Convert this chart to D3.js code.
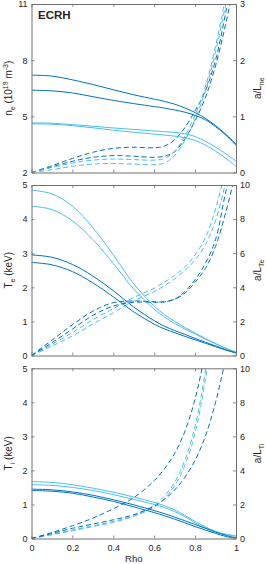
<!DOCTYPE html>
<html><head><meta charset="utf-8">
<script src="https://cdn.jsdelivr.net/npm/d3@7"></script>
<style>body{margin:0;background:#fff}svg{display:block}text{font-family:"Liberation Sans",Arial,Helvetica,sans-serif;fill:#262626}</style>
</head><body><svg id="c" width="266" height="564"></svg>
<script>
// ---- data ----
const rho = [0,0.1,0.2,0.3,0.4,0.5,0.6,0.65,0.7,0.75,0.8,0.85,0.9,0.95,1.0];
const xTicks = [0,0.2,0.4,0.6,0.8,1];
const xTickLabels = ["0","0.2","0.4","0.6","0.8","1"];

// panel 1: electron density (left) and a/L_ne (right)
const neDark1  = [7.2,7.15,6.95,6.7,6.42,6.15,5.92,5.8,5.65,5.45,5.2,4.9,4.5,4.05,3.52];
const neDark2  = [6.4,6.36,6.25,6.05,5.85,5.68,5.52,5.44,5.34,5.22,5.05,4.82,4.45,4.0,3.45];
const neLight1 = [4.65,4.63,4.56,4.47,4.38,4.3,4.22,4.18,4.14,4.07,3.92,3.67,3.36,3.0,2.6];
const neLight2 = [4.6,4.58,4.5,4.39,4.26,4.15,4.05,4.0,3.94,3.86,3.71,3.47,3.14,2.76,2.33];
const aLneDark1  = [0,0.12,0.25,0.36,0.43,0.45,0.44,0.47,0.58,0.8,1.1,1.45,2.0,2.85,3.8];
const aLneDark2  = [0,0.1,0.2,0.27,0.3,0.29,0.27,0.29,0.37,0.6,0.92,1.33,1.9,2.65,3.5];
const aLneLight1 = [0,0.09,0.17,0.22,0.24,0.23,0.22,0.25,0.38,0.65,1.02,1.52,2.25,3.15,4.2];
const aLneLight2 = [0,0.05,0.11,0.15,0.16,0.15,0.14,0.17,0.3,0.57,0.95,1.45,2.15,3.0,4.0];
const neTicks = [2,5,8,11];
const aLneTicks = [0,1,2,3];

// panel 2: electron temperature and a/L_Te
const teLight1 = [4.85,4.74,4.38,3.75,2.95,2.1,1.45,1.2,1.0,0.82,0.66,0.5,0.35,0.21,0.1];
const teLight2 = [4.38,4.28,3.95,3.4,2.7,1.95,1.36,1.13,0.94,0.78,0.63,0.48,0.34,0.21,0.1];
const teDark1  = [2.95,2.88,2.67,2.33,1.9,1.42,1.02,0.86,0.73,0.62,0.5,0.39,0.28,0.17,0.08];
const teDark2  = [2.73,2.66,2.46,2.13,1.72,1.28,0.92,0.78,0.67,0.56,0.46,0.36,0.26,0.16,0.07];
const aLTeDark1  = [0,0.9,1.8,2.6,3.1,3.2,3.15,3.15,3.3,3.75,4.45,5.4,6.8,9.6,12];
const aLTeDark2  = [0,0.75,1.55,2.35,2.9,3.12,3.12,3.15,3.3,3.65,4.3,5.1,6.4,8.4,10.8];
const aLTeLight1 = [0,0.65,1.35,2.1,2.75,3.4,3.95,4.3,4.7,5.2,5.9,6.9,8.6,11,14];
const aLTeLight2 = [0,0.55,1.15,1.85,2.5,3.2,3.75,4.1,4.5,5.0,5.6,6.5,7.9,10.2,13];
const teTicks = [0,1,2,3,4,5];
const aLTeTicks = [0,2,4,6,8,10];

// panel 3: ion temperature and a/L_Ti
const tiLight1 = [1.67,1.65,1.58,1.48,1.36,1.22,1.06,0.96,0.84,0.68,0.5,0.34,0.21,0.13,0.08];
const tiLight2 = [1.58,1.56,1.5,1.41,1.29,1.15,1.0,0.91,0.79,0.64,0.46,0.31,0.19,0.11,0.06];
const tiDark1  = [1.45,1.43,1.37,1.27,1.14,0.99,0.82,0.73,0.63,0.52,0.41,0.3,0.19,0.09,0.02];
const tiDark2  = [1.41,1.39,1.33,1.22,1.09,0.93,0.76,0.67,0.57,0.46,0.35,0.25,0.15,0.06,0.0];
const aLTiDark1  = [0,0.35,0.75,1.2,1.75,2.4,3.4,4.1,5.0,6.3,8.2,11,14.5,18,22];
const aLTiLight1 = [0,0.25,0.5,0.75,1.0,1.35,1.95,2.5,3.3,4.6,6.6,9.8,14,18,22];
const aLTiLight2 = [0,0.22,0.45,0.7,0.95,1.3,1.85,2.35,3.1,4.3,6.2,9.3,13.5,17.5,21.5];
const aLTiDark2  = [0,0.3,0.6,0.85,1.1,1.4,1.9,2.3,2.85,3.6,4.6,6.0,8.0,10.6,13.5];
const tiTicks = [0,1,2,3,4,5];
const aLTiTicks = [0,2,4,6,8,10];

const DARK = "#0072BD", LIGHT = "#4DBEEE";

// ---- layout ----
const svg = d3.select("#c");
const X0 = 31.5, X1 = 236;
const boxes = [[4, 172.5], [185, 355.5], [368.3, 538.5]];
const x = d3.scaleLinear().domain([0,1]).range([X0, X1]);
const AX = "#707070";

const panels = [
  {box: boxes[0], left: [2,11], right: [0,3], lt: neTicks, rt: aLneTicks,
   solid: [[neDark1,DARK],[neDark2,DARK],[neLight1,LIGHT],[neLight2,LIGHT]],
   dashed: [[aLneDark1,DARK],[aLneDark2,DARK],[aLneLight1,LIGHT],[aLneLight2,LIGHT]],
   ylab: ["n", "e", ""], rlab: ["a/L", "ne"]},
  {box: boxes[1], left: [0,5], right: [0,10], lt: teTicks, rt: aLTeTicks,
   solid: [[teLight1,LIGHT],[teLight2,LIGHT],[teDark1,DARK],[teDark2,DARK]],
   dashed: [[aLTeLight1,LIGHT],[aLTeLight2,LIGHT],[aLTeDark1,DARK],[aLTeDark2,DARK]],
   ylab: ["T", "e", " (keV)"], rlab: ["a/L", "Te"]},
  {box: boxes[2], left: [0,5], right: [0,10], lt: tiTicks, rt: aLTiTicks,
   solid: [[tiLight1,LIGHT],[tiLight2,LIGHT],[tiDark1,DARK],[tiDark2,DARK]],
   dashed: [[aLTiLight1,LIGHT],[aLTiLight2,LIGHT],[aLTiDark1,DARK],[aLTiDark2,DARK]],
   ylab: ["T", "i", " (keV)"], rlab: ["a/L", "Ti"]}
];

panels.forEach((p, i) => {
  const [pt, pb] = p.box;
  const yL = d3.scaleLinear().domain(p.left).range([pb, pt]);
  const yR = d3.scaleLinear().domain(p.right).range([pb, pt]);
  const g = svg.append("g");
  const cid = "clip" + i;
  svg.append("clipPath").attr("id", cid).append("rect")
    .attr("x", X0).attr("y", pt).attr("width", X1 - X0).attr("height", pb - pt);

  const plot = g.append("g").attr("clip-path", `url(#${cid})`);
  const lineL = d3.line().x((d,k) => x(rho[k])).y(d => yL(d)).curve(d3.curveCatmullRom.alpha(0.5));
  const lineR = d3.line().x((d,k) => x(rho[k])).y(d => yR(d)).curve(d3.curveCatmullRom.alpha(0.5));
  p.dashed.forEach(([arr, col]) => {
    plot.append("path").attr("d", lineR(arr)).attr("fill", "none").attr("stroke", col)
      .attr("stroke-width", 1).attr("stroke-dasharray", "5,3");
  });
  p.solid.forEach(([arr, col]) => {
    plot.append("path").attr("d", lineL(arr)).attr("fill", "none").attr("stroke", col)
      .attr("stroke-width", 1);
  });

  const ax = g.append("g");
  const bottom = d3.axisBottom(x).tickValues(xTicks).tickSizeInner(-3).tickSizeOuter(0)
    .tickFormat((d,k) => i === 2 ? xTickLabels[k] : "");
  const gb = ax.append("g").attr("transform", `translate(0,${pb})`).call(bottom);
  const top = d3.axisTop(x).tickValues(xTicks).tickSizeInner(-3).tickSizeOuter(0).tickFormat("");
  const gt = ax.append("g").attr("transform", `translate(0,${pt})`).call(top);
  const left = d3.axisLeft(yL).tickValues(p.lt).tickSizeInner(-3).tickSizeOuter(0).tickFormat(d3.format("d"));
  const gl = ax.append("g").attr("transform", `translate(${X0},0)`).call(left);
  const right = d3.axisRight(yR).tickValues(p.rt).tickSizeInner(-3).tickSizeOuter(0).tickFormat(d3.format("d"));
  const gr = ax.append("g").attr("transform", `translate(${X1},0)`).call(right);
  [gb, gt, gl, gr].forEach(a => {
    a.select(".domain").attr("stroke", AX).attr("stroke-width", 1);
    a.selectAll(".tick line").attr("stroke", AX).attr("stroke-width", 0.8);
    a.selectAll("text").attr("font-size", 9).attr("fill", "#262626")
      .attr("font-family", '"Liberation Sans",Arial,sans-serif');
  });
  gl.selectAll(".tick text").attr("x", -4);
  gr.selectAll(".tick text").attr("x", 4);
  gb.selectAll(".tick text").attr("y", 6);

  const cy = (pt + pb) / 2;
  const tl = g.append("text").attr("transform", `translate(12,${cy}) rotate(-90)`)
    .attr("text-anchor", "middle").attr("font-size", 10);
  if (i === 0) {
    tl.append("tspan").text("n");
    tl.append("tspan").attr("font-size", 7).attr("dy", 2.5).text("e");
    tl.append("tspan").attr("dy", -2.5).text(" (10");
    tl.append("tspan").attr("font-size", 7).attr("dy", -4).text("19");
    tl.append("tspan").attr("dy", 4).text(" m");
    tl.append("tspan").attr("font-size", 7).attr("dy", -4).text("-3");
    tl.append("tspan").attr("dy", 4).text(")");
  } else {
    tl.append("tspan").text(p.ylab[0]);
    tl.append("tspan").attr("font-size", 7).attr("dy", 2.5).text(p.ylab[1]);
    tl.append("tspan").attr("dy", -2.5).text(p.ylab[2]);
  }
  const tr = g.append("text").attr("transform", `translate(261,${cy}) rotate(-90)`)
    .attr("text-anchor", "middle").attr("font-size", 10);
  tr.append("tspan").text(p.rlab[0]);
  tr.append("tspan").attr("font-size", 7).attr("dy", 2.5).text(p.rlab[1]);
});

svg.append("text").attr("x", 38).attr("y", 19).attr("font-size", 11.5)
  .attr("font-weight", "bold").attr("fill", "#000").text("ECRH");
svg.append("text").attr("x", (X0 + X1) / 2).attr("y", 562).attr("text-anchor", "middle")
  .attr("font-size", 9.5).text("Rho");
</script></body></html>
